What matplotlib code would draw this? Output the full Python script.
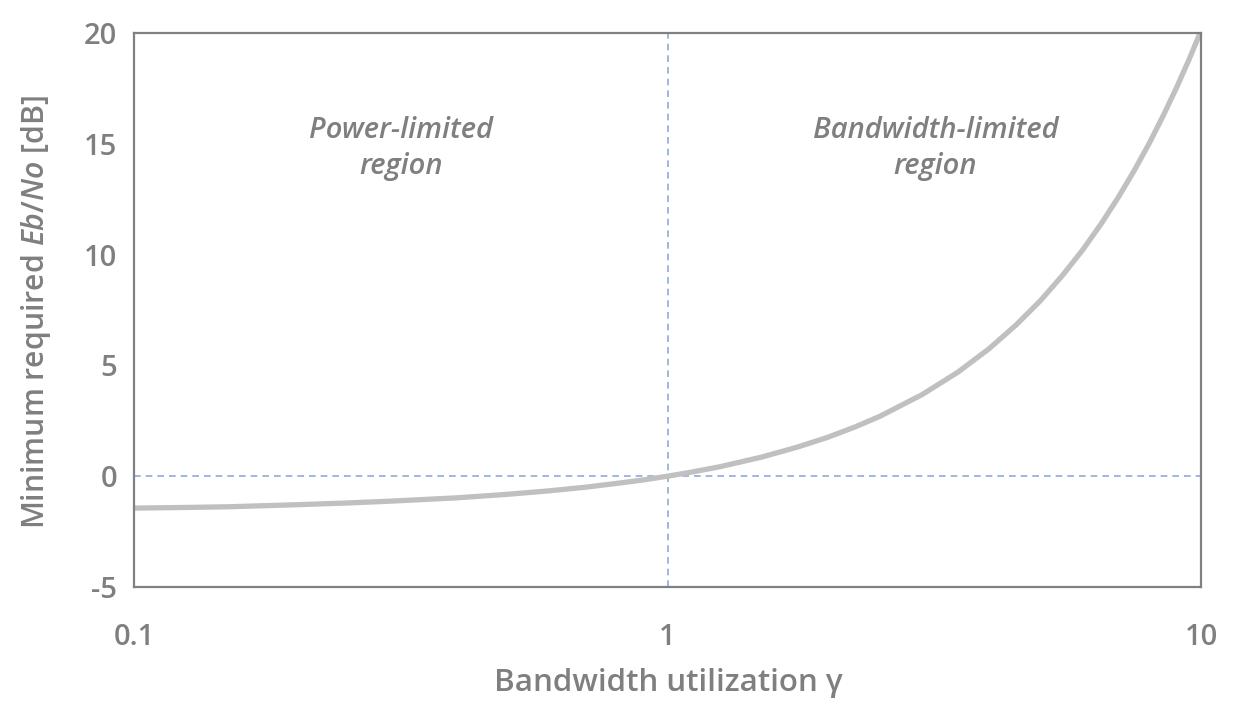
import matplotlib
matplotlib.use("Agg")
import matplotlib.pyplot as plt

# Data
gamma = [0.1, 0.125, 0.15, 0.2, 0.25, 0.3, 0.4, 0.5, 0.6, 0.7, 0.8, 0.9, 1.0,
         1.1, 1.25, 1.5, 1.75, 2.0, 2.25, 2.5, 3.0, 3.5, 4.0, 4.5, 5.0, 5.5,
         6.0, 6.5, 7.0, 7.5, 8.0, 8.5, 9.0, 9.5, 10.0]
ebno_db = [-1.44, -1.41, -1.38, -1.29, -1.21, -1.13, -0.98, -0.82, -0.66, -0.50,
           -0.33, -0.17, 0.0, 0.17, 0.42, 0.86, 1.31, 1.76, 2.23, 2.70, 3.68,
           4.69, 5.74, 6.82, 7.92, 9.06, 10.21, 11.39, 12.59, 13.80, 15.03,
           16.28, 17.54, 18.81, 20.1]
x_ticks = [0.1, 1, 10]
x_tick_labels = ["0.1", "1", "10"]
y_ticks = [-5, 0, 5, 10, 15, 20]
y_tick_labels = ["-5", "0", "5", "10", "15", "20"]

plt.rcParams['font.family'] = ['Open Sans', 'DejaVu Sans']
plt.rcParams['font.weight'] = 600
plt.rcParams['mathtext.fontset'] = 'custom'
plt.rcParams['mathtext.rm'] = 'Open Sans:weight=600'
plt.rcParams['mathtext.it'] = 'Open Sans:italic:weight=600'

TXT = '#7f7f7f'
FS = 21
fig = plt.figure(figsize=(12.37, 7.18), dpi=100)
ax = fig.add_axes([134/1237, 1-587/718, (1201-134)/1237, (587-33)/718])

ax.axhline(0, color='#8faadc', lw=1.2, ls=(0, (4, 3)), zorder=1)
ax.axvline(1, color='#8faadc', lw=1.2, ls=(0, (4, 3)), zorder=1)
ax.plot(gamma, ebno_db, color='#c0c0c0', lw=3.8, solid_capstyle='round',
        solid_joinstyle='round', zorder=2)

ax.set_xscale('log')
ax.set_xlim(0.1, 10)
ax.set_ylim(-5, 20)
ax.set_xticks(x_ticks)
ax.set_xticklabels(x_tick_labels)
ax.set_xticks([], minor=True)
ax.set_yticks(y_ticks)
ax.set_yticklabels(y_tick_labels)
ax.tick_params(axis='both', length=0, labelsize=FS, labelcolor=TXT)
ax.tick_params(axis='x', pad=26)
ax.tick_params(axis='y', pad=12)
for lab in ax.get_xticklabels() + ax.get_yticklabels():
    lab.set_fontweight(600)
for s in ax.spines.values():
    s.set_color('#808080')
    s.set_linewidth(1.6)

fig.text(668/1237, 1-683/718, "Bandwidth utilization γ", ha='center', va='center',
         fontsize=22.5, color=TXT, fontweight=600)
fig.text(36/1237, 1-312/718, r"Minimum required $Eb/No$ [dB]", ha='center', va='center',
         rotation=90, fontsize=21.8, color=TXT, fontweight=600)

ax.text(0.317, 14.8, "Power-limited\nregion", ha='center', va='center', fontsize=FS,
        style='italic', color=TXT, linespacing=1.3, fontweight=600)
ax.text(3.18, 14.8, "Bandwidth-limited\nregion", ha='center', va='center', fontsize=FS,
        style='italic', color=TXT, linespacing=1.3, fontweight=600)

fig.savefig("out.png", dpi=100)
